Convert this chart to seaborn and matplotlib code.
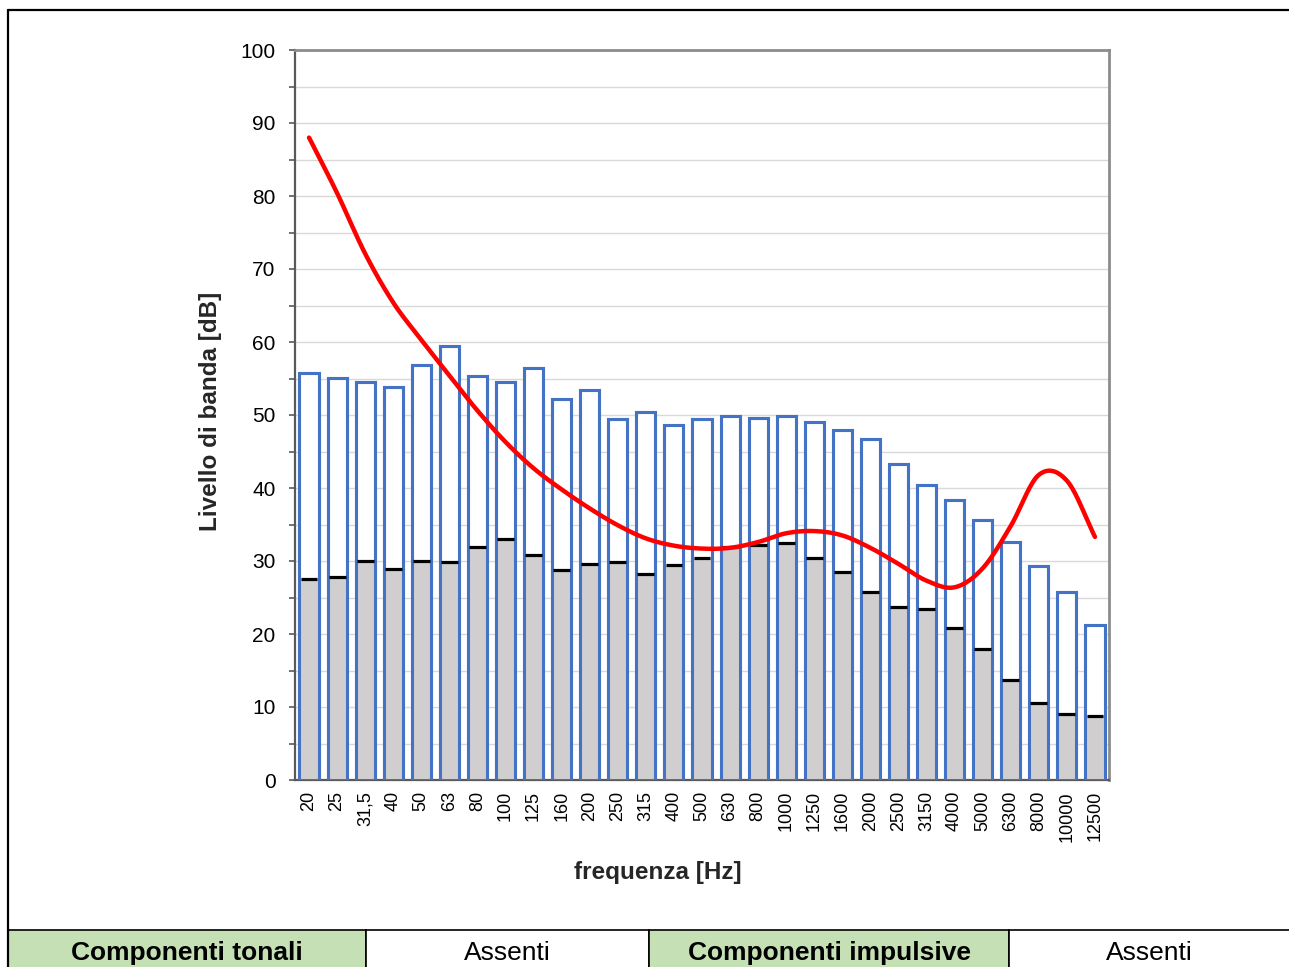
import numpy as np
import pandas as pd
import matplotlib
matplotlib.use("Agg")
import matplotlib.pyplot as plt
from matplotlib.patches import Rectangle
from matplotlib.lines import Line2D
from matplotlib.ticker import MultipleLocator
import seaborn as sns

# ---------------- data ----------------
freq_labels = ["20", "25", "31,5", "40", "50", "63", "80", "100", "125", "160",
               "200", "250", "315", "400", "500", "630", "800", "1000", "1250",
               "1600", "2000", "2500", "3150", "4000", "5000", "6300", "8000",
               "10000", "12500"]
band_level = [55.7, 55.1, 54.5, 53.8, 56.8, 59.5, 55.4, 54.5, 56.5, 52.2,
              53.4, 49.4, 50.4, 48.6, 49.5, 49.9, 49.6, 49.9, 49.1,
              47.9, 46.7, 43.3, 40.4, 38.4, 35.6, 32.6, 29.3,
              25.8, 21.2]
min_level = [27.5, 27.8, 30.0, 28.9, 30.0, 29.9, 31.9, 33.0, 30.8, 28.8,
             29.6, 29.9, 28.2, 29.4, 30.4, 31.9, 32.2, 32.5, 30.4,
             28.5, 25.8, 23.7, 23.4, 20.8, 17.9, 13.7, 10.5,
             9.0, 8.8]
curve_level = [88.0, 80.4, 72.1, 65.4, 60.3, 55.4, 50.6, 46.3, 42.7, 39.8,
               37.2, 34.9, 33.1, 32.1, 31.7, 31.8, 32.6, 33.8, 34.1,
               33.5, 31.8, 29.6, 27.3, 26.4, 29.0, 34.8, 41.8,
               41.0, 33.3]
table_cells = ["Componenti tonali", "Assenti", "Componenti impulsive", "Assenti"]
table_bold = [True, False, True, False]
table_fill = ["#C5E0B4", "white", "#C5E0B4", "white"]
table_edges_px = [8, 366, 649, 1009, 1300]

df = pd.DataFrame({"freq": freq_labels, "level": band_level, "min": min_level})

# ---------------- style ----------------
sns.set_style("white")
plt.rcParams["font.family"] = ["Liberation Sans", "DejaVu Sans"]

W, H = 1289, 967
fig = plt.figure(figsize=(W / 100, H / 100), dpi=100)
ax = fig.add_axes([295 / W, 1 - 780 / H, (1109 - 295) / W, (780 - 50) / H])

bw = 0.68
sns.barplot(data=df, x="freq", y="level", color="white", saturation=1,
            edgecolor="#4472C4", linewidth=2.2, width=bw, ax=ax, zorder=2)
sns.barplot(data=df, x="freq", y="min", color="#D0CECE", saturation=1,
            linewidth=0, width=bw, ax=ax, zorder=3)
sns.barplot(data=df, x="freq", y="level", color="#4472C4", fill=False,
            saturation=1, linewidth=2.2, width=bw, ax=ax, zorder=4)

xpos = np.arange(len(freq_labels))
ax.hlines(df["min"], xpos - 0.30, xpos + 0.30, color="black", lw=2.3, zorder=5)


def catmull_rom(vals, n=30):
    p = np.asarray(vals, dtype=float)
    pp = np.concatenate([[2 * p[0] - p[1]], p, [2 * p[-1] - p[-2]]])
    xs, ys = [], []
    t = np.linspace(0, 1, n, endpoint=False)
    h00 = 2 * t**3 - 3 * t**2 + 1
    h10 = t**3 - 2 * t**2 + t
    h01 = -2 * t**3 + 3 * t**2
    h11 = t**3 - t**2
    for i in range(len(p) - 1):
        p0, p1, p2, p3 = pp[i], pp[i + 1], pp[i + 2], pp[i + 3]
        m1 = (p2 - p0) / 2
        m2 = (p3 - p1) / 2
        ys.append(h00 * p1 + h10 * m1 + h01 * p2 + h11 * m2)
        xs.append(i + t)
    xs.append([len(p) - 1])
    ys.append([p[-1]])
    return np.concatenate(xs), np.concatenate(ys)


cx, cy = catmull_rom(curve_level)
ax.plot(cx, cy, color="#FF0000", lw=3.2, zorder=6, solid_capstyle="round")

# ---------------- axes ----------------
ax.set_xlim(-0.5, len(freq_labels) - 0.5)
ax.set_ylim(0, 100)
ax.yaxis.set_major_locator(MultipleLocator(10))
ax.yaxis.set_minor_locator(MultipleLocator(5))
ax.grid(False)
ax.yaxis.grid(True, which="both", color="#D9D9D9", lw=1.0, zorder=0)
ax.set_axisbelow(True)

ax.tick_params(axis="y", which="both", direction="out", length=4.5, width=1.2,
               color="#595959", left=True, labelsize=15, pad=9.5,
               labelcolor="black")
ax.tick_params(axis="x", length=0, pad=8, labelsize=13, labelrotation=90,
               labelcolor="black")
for lab in ax.get_xticklabels():
    lab.set_verticalalignment("top")

for s in ["left", "bottom"]:
    ax.spines[s].set_color("#595959")
    ax.spines[s].set_linewidth(1.6)
for s in ["top", "right"]:
    ax.spines[s].set_color("#8C8C8C")
    ax.spines[s].set_linewidth(2.0)

ax.set_ylabel("Livello di banda [dB]", fontsize=17.5, fontweight="bold")
ax.yaxis.set_label_coords((222 - 295) / (1109 - 295), 0.505)
ax.set_xlabel("frequenza [Hz]", fontsize=17.5, fontweight="bold")
ax.xaxis.set_label_coords((658 - 295) / (1109 - 295), -(873 - 780) / 730)
ax.xaxis.label.set_verticalalignment("center")


# ---------------- frame & table ----------------
def fx(px):
    return px / W


def fy(py):
    return 1 - py / H


fig.add_artist(Line2D([fx(8), fx(W + 5)], [fy(10), fy(10)], color="black",
                      lw=1.6, transform=fig.transFigure))
fig.add_artist(Line2D([fx(8), fx(8)], [fy(10), fy(H + 5)], color="black",
                      lw=1.6, transform=fig.transFigure))

top, bot = 930, H + 10
for i, txt in enumerate(table_cells):
    x0, x1 = table_edges_px[i], table_edges_px[i + 1]
    fig.add_artist(Rectangle((fx(x0), fy(bot)), fx(x1 - x0), (bot - top) / H,
                             facecolor=table_fill[i], edgecolor="black",
                             lw=1.2, transform=fig.transFigure))
    fig.text(fx((x0 + min(x1, W)) / 2), fy(953), txt, ha="center", va="center",
             fontsize=19, fontweight="bold" if table_bold[i] else "normal",
             color="black")

fig.savefig("out.png", dpi=100, facecolor="white")
